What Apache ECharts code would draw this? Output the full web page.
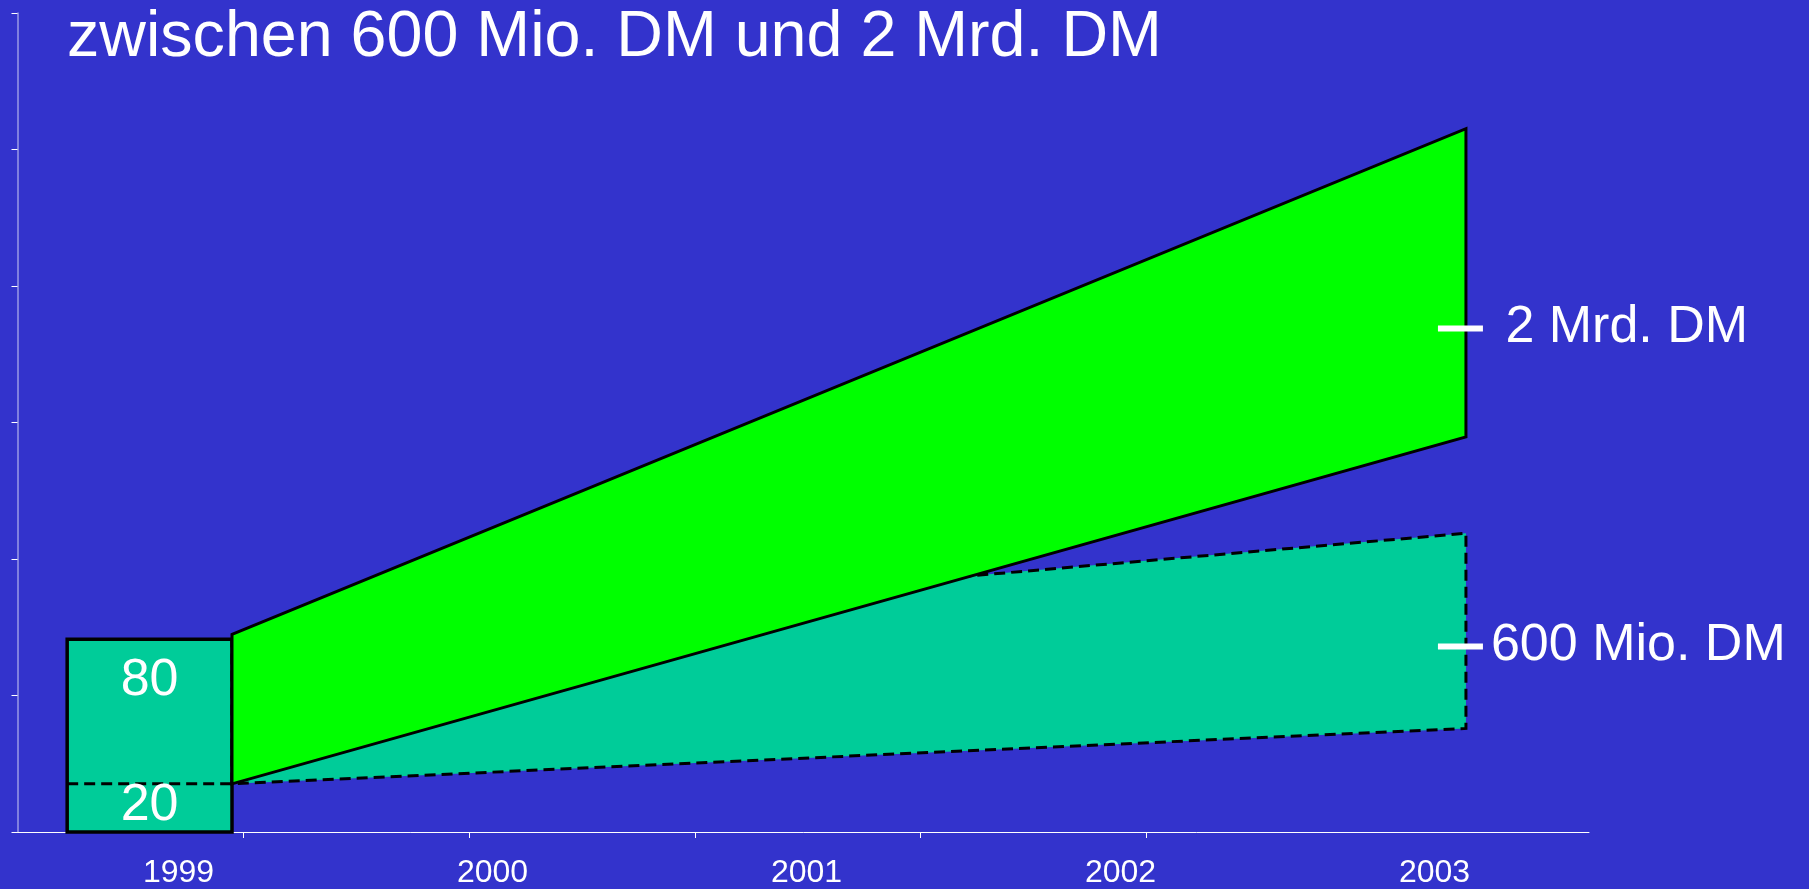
<!DOCTYPE html>
<html>
<head>
<meta charset="utf-8">
<title>zwischen 600 Mio. DM und 2 Mrd. DM</title>
<script src="https://cdn.jsdelivr.net/npm/echarts@6/dist/echarts.min.js"></script>
<style>
  html, body { margin: 0; padding: 0; background: #3333cc; }
  #chart { width: 1809px; height: 889px; }
</style>
</head>
<body>
<div id="chart"></div>
<script>
// Year labels along the bottom
const years = ['1999', '2000', '2001', '2002', '2003'];

// Starting block (1999): total height and the dashed base level
const startTotal = 80;
const startBase = 20;
const startSpan = [0.22, 0.95];       // x extent of the 1999 block

// Projection wedges run from the block edge to the 2003 edge
const bandX = [0.95, 6.415];

// High scenario (green wedge): top and bottom edge at start / end
const highTop = [82, 292];
const highBottom = [20, 164];

// Low scenario (teal wedge): top and bottom edge at start / end
const lowTop = [80, 124];
const lowBottom = [20, 43];

// Target markers at the 2003 edge
const targetLabels = ['600 Mio. DM', ' 2 Mrd. DM'];
const targetValues = [77, 209];

// Ticks on the axes
const xTickValues = [1, 2, 3, 4, 5];
const yMax = 340;
const ySteps = 6;

const FONT = '"Liberation Sans", Arial, Helvetica, sans-serif';
const TEAL = '#00cc99';
const GREEN = '#00ff00';

const chart = echarts.init(document.getElementById('chart'), null, { renderer: 'canvas' });

function wedgeRenderer(style) {
  return function (params, api) {
    const pts = [
      api.coord([api.value(0), api.value(2)]),
      api.coord([api.value(1), api.value(3)]),
      api.coord([api.value(1), api.value(5)]),
      api.coord([api.value(0), api.value(4)])
    ];
    return { type: 'polygon', shape: { points: pts }, style: style };
  };
}

const option = {
  backgroundColor: '#3333cc',
  animation: false,
  title: {
    text: 'zwischen 600 Mio. DM und 2 Mrd. DM',
    left: 67,
    top: 6,
    padding: 0,
    textStyle: { color: '#ffffff', fontSize: 64.6, fontWeight: 'normal', fontFamily: FONT }
  },
  grid: [
    { left: 17.5, right: 220, top: 13, bottom: 57 },
    { left: 21.5, right: 217.5, top: 13, bottom: 57 }
  ],
  xAxis: [
    {
      type: 'value', gridIndex: 0, min: 0, max: 6.96,
      axisLine: { show: true, lineStyle: { color: '#ffffff', width: 1 } },
      axisTick: { show: true, customValues: xTickValues, length: 6, lineStyle: { color: '#ffffff', width: 1 } },
      axisLabel: { show: false },
      splitLine: { show: false }
    },
    {
      type: 'category', gridIndex: 1, data: years, boundaryGap: true,
      axisLine: { show: false },
      axisTick: { show: false },
      axisLabel: { color: '#ffffff', fontSize: 32, fontFamily: FONT, margin: 27 },
      splitLine: { show: false }
    }
  ],
  yAxis: [
    {
      type: 'value', gridIndex: 0, min: 0, max: yMax, interval: yMax / ySteps,
      axisLine: { show: true, lineStyle: { color: '#9b9be6', width: 1.5 } },
      axisTick: { show: true, length: 6, lineStyle: { color: '#ffffff', width: 1 } },
      axisLabel: { show: false },
      splitLine: { show: false }
    },
    {
      type: 'value', gridIndex: 1, min: 0, max: 1, show: false
    }
  ],
  series: [
    {
      // 1999 block with its dashed base level
      type: 'custom',
      xAxisIndex: 0, yAxisIndex: 0,
      data: [[startSpan[0], startSpan[1], startTotal, startBase]],
      renderItem: function (params, api) {
        const x0 = api.value(0), x1 = api.value(1);
        const tl = api.coord([x0, api.value(2)]);
        const br = api.coord([x1, 0]);
        const bl = api.coord([x0, api.value(3)]);
        const br2 = api.coord([x1, api.value(3)]);
        const cx = (tl[0] + br[0]) / 2;
        return {
          type: 'group',
          children: [
            { type: 'rect', shape: { x: tl[0], y: tl[1], width: br[0] - tl[0], height: br[1] - tl[1] },
              style: { fill: TEAL, stroke: '#000000', lineWidth: 3.5 } },
            { type: 'line', shape: { x1: bl[0], y1: bl[1], x2: br2[0], y2: br2[1] },
              style: { stroke: '#000000', lineWidth: 3, lineDash: [11, 6] } },
            { type: 'text', style: { text: String(api.value(2)), x: cx, y: tl[1] + 41,
              fill: '#ffffff', font: '52px ' + FONT, align: 'center', verticalAlign: 'middle' } },
            { type: 'text', style: { text: String(api.value(3)), x: cx, y: br[1] - 26,
              fill: '#ffffff', font: '52px ' + FONT, align: 'center', verticalAlign: 'middle' } }
          ]
        };
      },
      z: 2
    },
    {
      // low scenario wedge (dashed outline)
      type: 'custom',
      xAxisIndex: 0, yAxisIndex: 0,
      data: [[bandX[0], bandX[1], lowTop[0], lowTop[1], lowBottom[0], lowBottom[1]]],
      renderItem: wedgeRenderer({ fill: TEAL, stroke: '#000000', lineWidth: 3, lineDash: [11, 6] }),
      z: 3
    },
    {
      // high scenario wedge (solid outline)
      type: 'custom',
      xAxisIndex: 0, yAxisIndex: 0,
      data: [[bandX[0], bandX[1], highTop[0], highTop[1], highBottom[0], highBottom[1]]],
      renderItem: wedgeRenderer({ fill: GREEN, stroke: '#000000', lineWidth: 3 }),
      z: 4
    },
    {
      // target markers at the right edge
      type: 'custom',
      xAxisIndex: 0, yAxisIndex: 0,
      data: targetValues.map(function (v) { return [bandX[1], v]; }),
      renderItem: function (params, api) {
        const p = api.coord([api.value(0), api.value(1)]);
        return {
          type: 'group',
          children: [
            { type: 'line', shape: { x1: p[0] - 28, y1: p[1], x2: p[0] + 17, y2: p[1] },
              style: { stroke: '#ffffff', lineWidth: 6 } },
            { type: 'text', style: { text: targetLabels[params.dataIndex], x: p[0] + 25, y: p[1] - 1,
              fill: '#ffffff', font: '52px ' + FONT, align: 'left', verticalAlign: 'middle' } }
          ]
        };
      },
      z: 5
    }
  ]
};

chart.setOption(option);
</script>
</body>
</html>
